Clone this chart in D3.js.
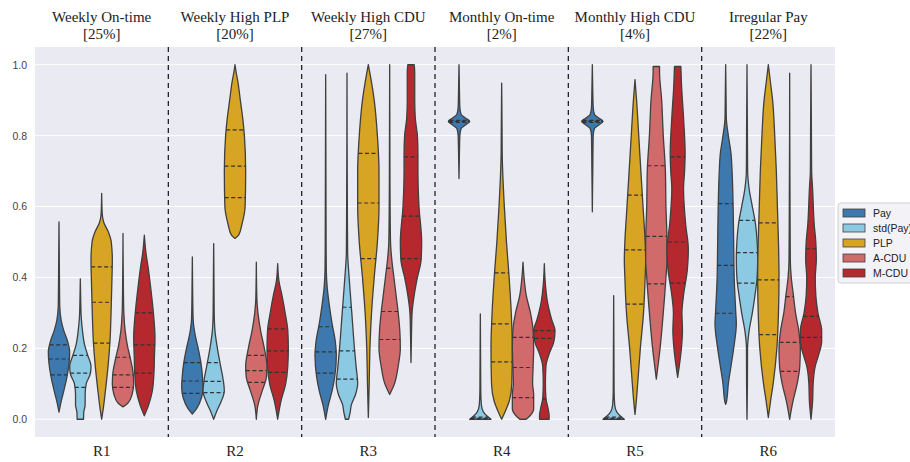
<!DOCTYPE html>
<html>
<head>
<meta charset="utf-8">
<script src="https://cdn.jsdelivr.net/npm/d3@7"></script>
<style>
  body { margin: 0; background: #fff; }
  svg { display: block; }
</style>
</head>
<body>
<div id="chart"></div>
<script>
// categories and labels
var regions = ['R1', 'R2', 'R3', 'R4', 'R5', 'R6'];
var titles = ['Weekly On-time', 'Weekly High PLP', 'Weekly High CDU', 'Monthly On-time', 'Monthly High CDU', 'Irregular Pay'];
var shares = ['[25%]', '[20%]', '[27%]', '[2%]', '[4%]', '[22%]'];
var series = ['Pay', 'std(Pay)', 'PLP', 'A-CDU', 'M-CDU'];
var colors = ['#3d79ae', '#8ccae4', '#d8a423', '#d16a6a', '#b5282d'];
var yTicks = [0.0, 0.2, 0.4, 0.6, 0.8, 1.0];

// violin outlines: [value, relative width] per series
var shapeR1 = [
  [[0.02,0],[0.05,0.2],[0.08,0.45],[0.12,0.75],[0.16,0.95],[0.19,1.0],[0.22,0.8],[0.25,0.45],[0.28,0.2],[0.32,0.07],[0.4,0.04],[0.557,0]],
  [[0,0.3],[0.02,0.32],[0.04,0.45],[0.07,0.45],[0.1,0.55],[0.13,0.95],[0.15,1.0],[0.18,0.7],[0.21,0.4],[0.25,0.2],[0.29,0.08],[0.33,0.04],[0.396,0]],
  [[0,0],[0.03,0.15],[0.08,0.35],[0.15,0.6],[0.22,0.78],[0.3,0.88],[0.38,0.95],[0.45,1.0],[0.5,0.9],[0.53,0.6],[0.555,0.2],[0.58,0.05],[0.637,0]],
  [[0.035,0],[0.045,0.45],[0.07,0.85],[0.1,1.0],[0.13,0.95],[0.17,0.7],[0.21,0.4],[0.25,0.2],[0.3,0.08],[0.36,0.04],[0.524,0]],
  [[0.01,0],[0.04,0.4],[0.08,0.75],[0.13,0.9],[0.18,0.95],[0.23,1.0],[0.3,0.85],[0.37,0.6],[0.43,0.35],[0.47,0.15],[0.5,0.05],[0.519,0]]
];
var shapeR2 = [
  [[0.015,0],[0.03,0.4],[0.06,0.85],[0.09,1.0],[0.12,0.95],[0.16,0.8],[0.2,0.55],[0.24,0.25],[0.28,0.08],[0.33,0.04],[0.458,0]],
  [[0,0],[0.02,0.25],[0.05,0.7],[0.08,1.0],[0.11,0.9],[0.15,0.65],[0.2,0.35],[0.25,0.12],[0.3,0.05],[0.495,0]],
  [[0.51,0],[0.52,0.35],[0.55,0.65],[0.6,0.95],[0.7,1.0],[0.8,0.88],[0.85,0.72],[0.9,0.5],[0.95,0.28],[0.98,0.1],[1.0,0]],
  [[0,0],[0.04,0.15],[0.08,0.55],[0.12,0.95],[0.15,1.0],[0.2,0.75],[0.25,0.4],[0.3,0.15],[0.34,0.05],[0.443,0]],
  [[0,0],[0.05,0.3],[0.1,0.75],[0.15,0.95],[0.2,1.0],[0.25,0.95],[0.3,0.7],[0.35,0.4],[0.39,0.12],[0.439,0]]
];
var shapeR3 = [
  [[0,0],[0.04,0.25],[0.08,0.6],[0.12,0.85],[0.18,1.0],[0.22,0.9],[0.27,0.6],[0.32,0.35],[0.37,0.15],[0.42,0.06],[0.5,0.04],[0.972,0]],
  [[0,0.15],[0.02,0.3],[0.04,0.4],[0.07,0.8],[0.1,1.0],[0.15,0.85],[0.2,0.7],[0.3,0.45],[0.4,0.2],[0.47,0.06],[0.55,0.04],[0.976,0]],
  [[0.005,0],[0.1,0.08],[0.2,0.15],[0.3,0.3],[0.4,0.55],[0.5,0.85],[0.6,1.0],[0.7,1.0],[0.8,0.85],[0.9,0.55],[0.95,0.3],[1.0,0]],
  [[0.07,0],[0.1,0.45],[0.15,0.8],[0.2,1.0],[0.25,0.95],[0.3,0.8],[0.35,0.6],[0.4,0.4],[0.45,0.2],[0.5,0.08],[0.6,0.04],[1.0,0]],
  [[0.16,0],[0.25,0.05],[0.3,0.1],[0.35,0.3],[0.4,0.6],[0.45,0.95],[0.5,1.0],[0.6,0.75],[0.7,0.65],[0.75,0.65],[0.8,0.6],[0.85,0.4],[0.9,0.35],[0.98,0.35],[1.0,0.3]]
];
var shapeR4 = [
  [[0.679,0],[0.75,0.04],[0.8,0.08],[0.82,0.2],[0.83,0.6],[0.84,1.0],[0.85,0.6],[0.86,0.2],[0.88,0.08],[0.93,0.04],[1.0,0]],
  [[0,1.0],[0.01,0.6],[0.02,0.3],[0.04,0.1],[0.08,0.04],[0.297,0]],
  [[0,0],[0.02,0.3],[0.05,0.7],[0.1,0.95],[0.2,1.0],[0.3,0.9],[0.4,0.7],[0.5,0.45],[0.6,0.25],[0.75,0.05],[0.8,0.04],[0.948,0]],
  [[0,0.3],[0.01,0.65],[0.03,1.0],[0.07,1.0],[0.1,0.9],[0.15,0.95],[0.2,1.0],[0.25,0.95],[0.3,0.7],[0.35,0.3],[0.4,0.1],[0.443,0]],
  [[0,0.45],[0.01,0.45],[0.03,0.35],[0.06,0.15],[0.1,0.1],[0.15,0.15],[0.18,0.4],[0.22,0.9],[0.25,1.0],[0.28,0.7],[0.33,0.3],[0.38,0.1],[0.439,0]]
];
var shapeR5 = [
  [[0.585,0],[0.7,0.04],[0.8,0.08],[0.82,0.2],[0.83,0.6],[0.84,1.0],[0.85,0.6],[0.86,0.2],[0.88,0.08],[0.93,0.04],[1.0,0]],
  [[0,1.0],[0.01,0.6],[0.02,0.3],[0.04,0.1],[0.08,0.04],[0.349,0]],
  [[0.014,0],[0.05,0.12],[0.1,0.25],[0.2,0.5],[0.3,0.8],[0.4,0.95],[0.45,1.0],[0.5,0.95],[0.6,0.75],[0.7,0.55],[0.8,0.35],[0.9,0.15],[0.958,0]],
  [[0.113,0],[0.15,0.15],[0.2,0.35],[0.3,0.65],[0.4,0.9],[0.45,1.0],[0.5,1.0],[0.6,0.9],[0.7,0.85],[0.8,0.65],[0.9,0.5],[0.98,0.3],[0.995,0.3]],
  [[0.118,0],[0.15,0.15],[0.2,0.35],[0.25,0.45],[0.3,0.4],[0.35,0.55],[0.42,0.9],[0.48,1.0],[0.55,0.75],[0.65,0.55],[0.7,0.65],[0.75,0.7],[0.85,0.55],[0.95,0.35],[0.995,0.3]]
];
var shapeR6 = [
  [[0.042,0],[0.05,0.08],[0.1,0.25],[0.15,0.5],[0.2,0.75],[0.27,1.0],[0.3,0.95],[0.4,0.8],[0.5,0.75],[0.6,0.7],[0.7,0.6],[0.75,0.5],[0.8,0.25],[0.85,0.06],[0.9,0.04],[1.0,0]],
  [[0,0],[0.1,0.04],[0.2,0.05],[0.25,0.2],[0.3,0.5],[0.35,0.75],[0.4,0.95],[0.45,1.0],[0.5,0.95],[0.55,0.8],[0.6,0.5],[0.65,0.2],[0.7,0.06],[0.8,0.04],[1.0,0]],
  [[0.005,0],[0.05,0.2],[0.1,0.45],[0.2,0.8],[0.3,0.95],[0.4,1.0],[0.5,0.95],[0.6,0.85],[0.7,0.75],[0.8,0.6],[0.9,0.4],[0.95,0.2],[1.0,0]],
  [[0,0],[0.05,0.3],[0.1,0.7],[0.15,0.95],[0.2,1.0],[0.25,0.85],[0.3,0.55],[0.35,0.35],[0.4,0.15],[0.45,0.06],[0.55,0.04],[0.976,0]],
  [[0,0],[0.05,0.15],[0.1,0.2],[0.15,0.4],[0.18,0.7],[0.22,1.0],[0.25,1.0],[0.3,0.65],[0.35,0.45],[0.4,0.4],[0.45,0.5],[0.5,0.45],[0.55,0.3],[0.65,0.15],[0.7,0.06],[0.8,0.04],[1.0,0]]
];

// quartiles [q1, median, q3] per series
var quartR1 = [[0.125,0.17,0.21],[0.09,0.13,0.18],[0.215,0.33,0.43],[0.09,0.125,0.175],[0.13,0.21,0.30]];
var quartR2 = [[0.073,0.108,0.16],[0.075,0.107,0.16],[0.625,0.714,0.816],[0.104,0.137,0.18],[0.132,0.193,0.255]];
var quartR3 = [[0.13,0.19,0.261],[0.113,0.193,0.316],[0.453,0.61,0.75],[0.225,0.304,0.426],[0.453,0.573,0.74]];
var quartR4 = [[0.837,0.84,0.843],[0.001,0.003,0.006],[0.162,0.269,0.413],[0.061,0.146,0.231],[0.057,0.228,0.25]];
var quartR5 = [[0.837,0.84,0.843],[0.001,0.003,0.006],[0.325,0.478,0.632],[0.382,0.516,0.715],[0.384,0.5,0.74]];
var quartR6 = [[0.299,0.434,0.608],[0.384,0.47,0.561],[0.239,0.393,0.554],[0.135,0.217,0.346],[0.231,0.29,0.481]];

var shapes = [shapeR1, shapeR2, shapeR3, shapeR4, shapeR5, shapeR6];
var quarts = [quartR1, quartR2, quartR3, quartR4, quartR5, quartR6];

var W = 910, H = 462;
var plotLeft = 35, plotRight = 835, plotTop = 47, plotBottom = 437;

var svg = d3.select('#chart').append('svg')
  .attr('width', W)
  .attr('height', H);

var x = d3.scaleBand().domain(regions).range([plotLeft, plotRight]);
var bw = x.bandwidth();
var hue = d3.scaleBand().domain(series).range([-0.4 * bw, 0.4 * bw]);
var half = d3.scaleLinear().domain([0, 1]).range([0, hue.bandwidth() / 2]);
var y = d3.scaleLinear().domain([-0.05, 1.05]).range([plotBottom, plotTop]);

// background and grid
svg.append('rect')
  .attr('x', plotLeft).attr('y', plotTop)
  .attr('width', plotRight - plotLeft).attr('height', plotBottom - plotTop)
  .attr('fill', '#eaeaf2');

svg.append('g')
  .selectAll('line')
  .data(yTicks)
  .enter().append('line')
  .attr('x1', plotLeft).attr('x2', plotRight)
  .attr('y1', function(d) { return y(d); })
  .attr('y2', function(d) { return y(d); })
  .attr('stroke', '#fff')
  .attr('stroke-width', 1);

// y axis labels
svg.append('g')
  .attr('transform', 'translate(' + plotLeft + ',0)')
  .call(d3.axisLeft(y).tickValues(yTicks).tickFormat(d3.format('.1f')).tickSize(0).tickPadding(8))
  .call(function(g) { g.select('.domain').remove(); })
  .selectAll('text')
  .attr('fill', '#444')
  .style('font-family', '"Liberation Sans", Arial, sans-serif')
  .style('font-size', '10.5px');

// bottom labels R1..R6
svg.append('g')
  .attr('transform', 'translate(0,' + plotBottom + ')')
  .call(d3.axisBottom(x).tickSize(0).tickPadding(8))
  .call(function(g) { g.select('.domain').remove(); })
  .selectAll('text')
  .attr('fill', '#222')
  .style('font-family', '"Liberation Serif", "Times New Roman", serif')
  .style('font-size', '15px');

// titles
var tg = svg.append('g')
  .style('font-family', '"Liberation Serif", "Times New Roman", serif')
  .style('font-size', '15px')
  .attr('fill', '#222')
  .attr('text-anchor', 'middle');
regions.forEach(function(r, i) {
  var cx = x(r) + bw / 2;
  tg.append('text').attr('x', cx).attr('y', 22).text(titles[i]);
  tg.append('text').attr('x', cx).attr('y', 39).text(shares[i]);
});

// interpolate width at a value from the outline knots
function widthAt(pts, v) {
  for (var k = 0; k < pts.length - 1; k++) {
    var a = pts[k], b = pts[k + 1];
    if (v >= a[0] && v <= b[0]) {
      var t = (b[0] - a[0]) === 0 ? 0 : (v - a[0]) / (b[0] - a[0]);
      return a[1] + t * (b[1] - a[1]);
    }
  }
  return 0;
}

// violins
regions.forEach(function(r, i) {
  var g = svg.append('g');
  series.forEach(function(s, j) {
    var cx = x(r) + bw / 2 + hue(s) + hue.bandwidth() / 2;
    var pts = shapes[i][j];
    var area = d3.area()
      .curve(d3.curveMonotoneY)
      .y(function(d) { return y(d[0]); })
      .x0(function(d) { return cx - half(d[1]); })
      .x1(function(d) { return cx + half(d[1]); });
    g.append('path')
      .datum(pts)
      .attr('d', area)
      .attr('fill', colors[j])
      .attr('stroke', '#404040')
      .attr('stroke-width', 1.3)
      .attr('stroke-linejoin', 'round');
    g.selectAll('.q' + j)
      .data(quarts[i][j])
      .enter().append('line')
      .attr('class', 'q' + j)
      .attr('x1', function(d) { return cx - half(widthAt(pts, d)); })
      .attr('x2', function(d) { return cx + half(widthAt(pts, d)); })
      .attr('y1', function(d) { return y(d); })
      .attr('y2', function(d) { return y(d); })
      .attr('stroke', '#333')
      .attr('stroke-width', 1.2)
      .attr('stroke-dasharray', '4,2.5');
  });
});

// dashed separators between regions
svg.append('g')
  .selectAll('line')
  .data(regions.slice(1))
  .enter().append('line')
  .attr('x1', function(d) { return x(d); })
  .attr('x2', function(d) { return x(d); })
  .attr('y1', plotTop).attr('y2', plotBottom)
  .attr('stroke', '#222')
  .attr('stroke-width', 1.3)
  .attr('stroke-dasharray', '5,4');

// legend
var lg = svg.append('g').attr('transform', 'translate(838,203)');
lg.append('rect')
  .attr('width', 80).attr('height', 80).attr('rx', 3)
  .attr('fill', '#f3f3f7')
  .attr('stroke', '#d0d0d0');
var item = lg.selectAll('.item')
  .data(series)
  .enter().append('g')
  .attr('class', 'item')
  .attr('transform', function(d, i) { return 'translate(5,' + (10 + i * 15) + ')'; });
item.append('rect')
  .attr('x', 0).attr('y', -4)
  .attr('width', 22).attr('height', 8)
  .attr('fill', function(d, i) { return colors[i]; })
  .attr('stroke', '#404040')
  .attr('stroke-width', 0.8);
item.append('text')
  .attr('x', 30).attr('y', 4)
  .attr('fill', '#222')
  .style('font-family', '"Liberation Sans", Arial, sans-serif')
  .style('font-size', '10.5px')
  .text(function(d) { return d; });
</script>
</body>
</html>
